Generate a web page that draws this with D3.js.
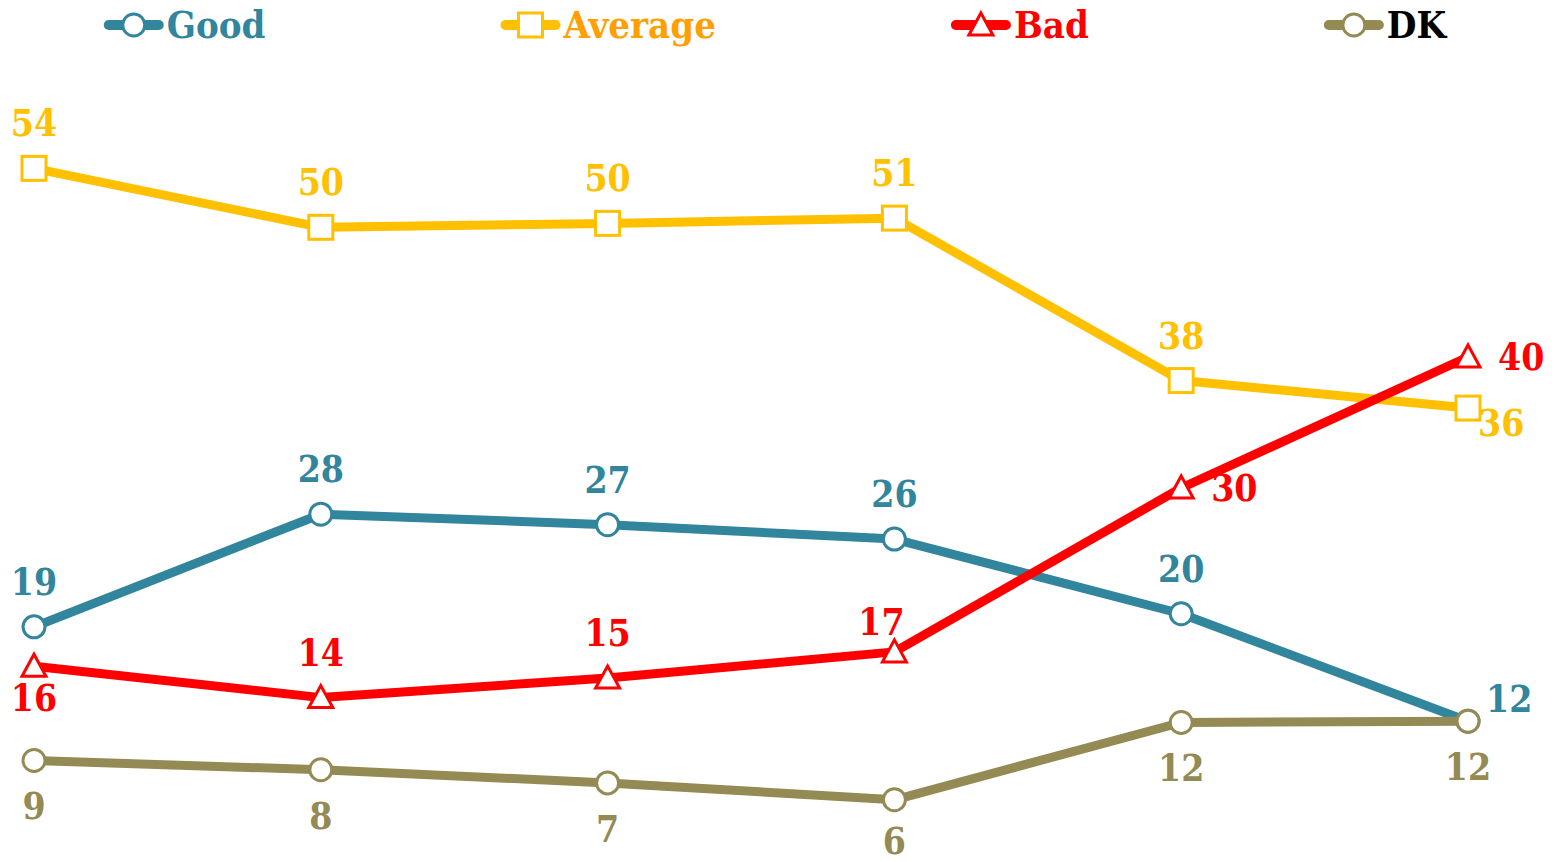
<!DOCTYPE html>
<html>
<head>
<meta charset="utf-8">
<script src="https://cdn.jsdelivr.net/npm/d3@7"></script>
<style>
  html, body { margin: 0; padding: 0; background: #fff; }
  svg text { font-family: "DejaVu Serif Condensed", "DejaVu Serif", serif; font-stretch: condensed; font-weight: bold; }
</style>
</head>
<body>
<svg id="chart"></svg>
<script>
// data (labels are the rounded values)
var categories = ["1", "2", "3", "4", "5", "6"];
var seriesNames = ["Good", "Average", "Bad", "DK"];
var goodValues = [19.4, 28, 27.2, 26.1, 20.4, 12.2];
var averageValues = [54.4, 49.9, 50.2, 50.6, 38.2, 36.1];
var badValues = [16.4, 14, 15.49, 17.49, 30, 40];
var dkValues = [9.2, 8.49, 7.49, 6.2, 12.1, 12.2];

var width = 1555, height = 862;
var fontSize = 37;

var svg = d3.select("#chart").attr("width", width).attr("height", height);

var x = d3.scalePoint().domain(categories).range([34, 1468]);
var y = d3.scaleLinear().domain([0, 60]).range([881, 95]);

// label placement per point: a = above, b = below, r = right, rb = right-below, ra = right-above
var series = [
	{ name: "Good", values: goodValues, color: "#31859c", textColor: "#31859c", legendColor: "#31859c", marker: "circle",
		place: ["a", "a", "a", "a", "a", "ra"] },
	{ name: "Average", values: averageValues, color: "#ffc000", textColor: "#ffc000", legendColor: "#ff9f00", marker: "square",
		place: ["a", "a", "a", "a", "a", "rb"] },
	{ name: "Bad", values: badValues, color: "#ff0000", textColor: "#ff0000", legendColor: "#ff0000", marker: "triangle",
		place: ["b2", "a", "a", "al", "r", "r"] },
	{ name: "DK", values: dkValues, color: "#948a54", textColor: "#948a54", legendColor: "#000000", marker: "circle",
		place: ["b", "b", "b", "b", "b", "b"] }
];

var fmt = d3.format(".0f");

function drawMarker(g, type, color) {
	if (type === "circle") {
		g.append("circle").attr("r", 11).attr("fill", "#fff").attr("stroke", color).attr("stroke-width", 3);
	} else if (type === "square") {
		g.append("rect").attr("x", -12).attr("y", -12).attr("width", 24).attr("height", 24)
			.attr("fill", "#fff").attr("stroke", color).attr("stroke-width", 3);
	} else {
		g.append("path").attr("d", "M0,-12L12,10L-12,10Z")
			.attr("fill", "#fff").attr("stroke", color).attr("stroke-width", 3).attr("stroke-linejoin", "miter");
	}
}

var line = d3.line()
	.x(function (d, i) { return x(categories[i]); })
	.y(function (d) { return y(d); });

series.forEach(function (s) {
	var g = svg.append("g");
	g.append("path")
		.datum(s.values)
		.attr("d", line)
		.attr("fill", "none")
		.attr("stroke", s.color)
		.attr("stroke-width", 9)
		.attr("stroke-linejoin", "round");

	s.values.forEach(function (v, i) {
		var m = g.append("g").attr("transform", "translate(" + x(categories[i]) + "," + y(v) + ")");
		drawMarker(m, s.marker, s.color);
	});
});

// data labels on top
series.forEach(function (s) {
	s.values.forEach(function (v, i) {
		var px = x(categories[i]), py = y(v);
		var p = s.place[i];
		var tx = px, ty = py - 32, anchor = "middle";
		if (p === "b") { ty = Math.min(py + 59, height - 8); }
		else if (p === "b2") { ty = py + 45; }
		else if (p === "al") { tx = px - 13; ty = py - 17; }
		else if (p === "r") { tx = px + 30; ty = py + 13; anchor = "start"; }
		else if (p === "rb") { tx = px + 10; ty = py + 28; anchor = "start"; }
		else if (p === "ra") { tx = px + 18; ty = py - 9; anchor = "start"; }
		svg.append("text")
			.attr("x", tx).attr("y", ty)
			.attr("text-anchor", anchor)
			.attr("fill", s.textColor)
			.attr("font-size", fontSize)
			.text(fmt(v));
	});
});

// legend, centred, equal gaps between items
var legend = svg.append("g");
var items = series.map(function (s) {
	var g = legend.append("g");
	g.append("line").attr("x1", 0).attr("x2", 50).attr("y1", 0).attr("y2", 0)
		.attr("stroke", s.color).attr("stroke-width", 10).attr("stroke-linecap", "round");
	var m = g.append("g").attr("transform", "translate(25,0)");
	drawMarker(m, s.marker, s.color);
	var t = g.append("text").attr("x", 58).attr("y", 13).attr("fill", s.legendColor)
		.attr("font-size", fontSize + 1).text(s.name);
	return { g: g, w: 58 + t.node().getComputedTextLength() };
});
var gap = 240;
var total = d3.sum(items, function (d) { return d.w; }) + gap * (items.length - 1);
var cx = (width - total) / 2;
items.forEach(function (it) {
	it.g.attr("transform", "translate(" + cx + ",25)");
	cx += it.w + gap;
});
</script>
</body>
</html>
